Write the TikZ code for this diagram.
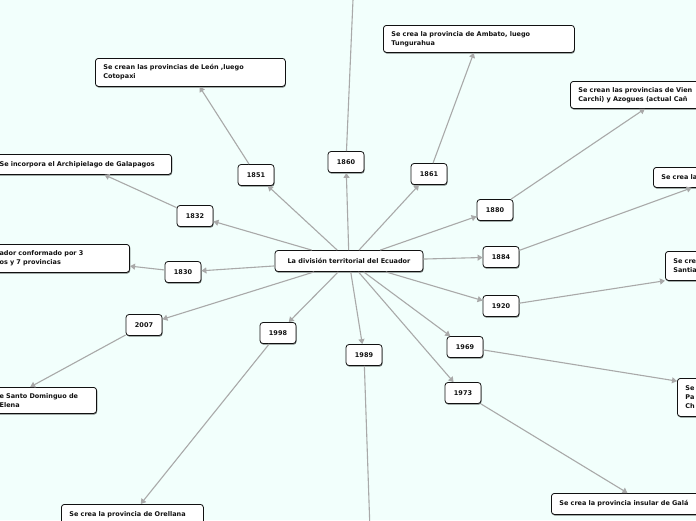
\documentclass[tikz,border=0pt]{standalone}
\usepackage{fontspec}
\setmainfont{DejaVu Sans}
\usetikzlibrary{arrows.meta,shadows}
\definecolor{mapbg}{HTML}{F2FFFC}
\definecolor{mapline}{HTML}{A9A9A9}
\definecolor{mapink}{HTML}{111111}

\begin{document}
\begin{tikzpicture}[x=1pt,y=-1pt,
    box/.style={draw=mapink,fill=white,rounded corners=3pt,line width=.8pt,
      text=mapink,font=\fontsize{6.5}{9}\selectfont\bfseries,
      drop shadow={shadow xshift=.5pt,shadow yshift=-1.2pt,opacity=.5,fill=black}},
    year/.style={box,minimum width=36pt,minimum height=21pt,inner sep=0pt},
    topic/.style={box,align=left,inner xsep=8pt,inner ysep=2pt},
    link/.style={draw=mapline,line width=1.1pt,-{Triangle[length=5pt,width=6pt]}}]
        \fill[mapbg] (0,0) rectangle (696,520);
        \useasboundingbox (0,0) rectangle (696,520);

        \node[box,minimum width=148pt,minimum height=21pt,inner sep=0pt] (root) at (349,261)
          {La división territorial del Ecuador};

        \node[year] (y1830) at (183,272) {1830};
        \node[year] (y1832) at (195,216) {1832};
        \node[year] (y1851) at (256,175) {1851};
        \node[year] (y1860) at (346,162) {1860};
        \node[year] (y1861) at (429,174) {1861};
        \node[year] (y1880) at (495,210) {1880};
        \node[year] (y1884) at (501,257) {1884};
        \node[year] (y1920) at (501,306) {1920};
        \node[year] (y1969) at (465,347) {1969};
        \node[year] (y1973) at (463,393) {1973};
        \node[year] (y1989) at (364,355) {1989};
        \node[year] (y1998) at (278,333) {1998};
        \node[year] (y2007) at (144,325) {2007};

        \node[topic,anchor=north west,text width=174pt,minimum height=28pt] (leon) at (95,58)
          {Se crean las provincias de León ,luego\\Cotopaxi};
        \node[topic,anchor=north west,text width=175pt,minimum height=27pt] (ambato) at (383,25)
          {Se crea la provincia de Ambato, luego\\Tungurahua};
        \node[topic,anchor=north east,text width=164pt,minimum height=20pt] (galapagos) at (172,154)
          {Se incorpora el Archipielago de Galapagos};
        \node[topic,anchor=north east,text width=122pt,minimum height=28pt] (estado) at (130,244)
          {ador conformado por 3\\os y 7 provincias};
        \node[topic,anchor=north east,text width=166pt,minimum height=26pt] (santodom) at (97,387)
          {\hspace*{77pt}e Santo Dominguo de\\\hspace*{77pt}Elena};
        \node[topic,anchor=north west,text width=126pt,minimum height=20pt] (orellana) at (61,504)
          {Se crea la provincia de Orellana};
        \node[topic,anchor=north west,text width=174pt,minimum height=27pt] (carchi) at (570,81)
          {Se crean las provincias de Vien\\Carchi) y Azogues (actual Cañ};
        \node[topic,anchor=north west,text width=118pt,minimum height=20pt] (t1884) at (653,167)
          {Se crea la};
        \node[topic,anchor=north west,text width=176pt,minimum height=29pt] (t1920) at (665,251)
          {Se cre\\Santia};
        \node[topic,anchor=north west,text width=186pt,minimum height=38pt] (t1969) at (677,378)
          {Se\\Pa\\Ch};
        \node[topic,anchor=north west,text width=172pt,minimum height=21pt] (galapagos2) at (551,493)
          {Se crea la provincia insular de Galá};

        \coordinate (up1860) at (356,-70);
        \coordinate (down1989) at (371,560);

        \foreach \yr in {1830,1832,1851,1860,1861,1880,1884,1920,1969,1973,1989,1998,2007}
          \draw[link] (root) -- (y\yr);

        \draw[link] (y1830) -- (estado);
        \draw[link] (y1832) -- (galapagos);
        \draw[link] (y1851) -- (leon);
        \draw[link] (y1860) -- (up1860);
        \draw[link] (y1861) -- (ambato);
        \draw[link] (y1880) -- (carchi);
        \draw[link] (y1884) -- (t1884);
        \draw[link] (y1920) -- (t1920);
        \draw[link] (y1969) -- (t1969);
        \draw[link] (y1973) -- (galapagos2);
        \draw[link] (y1989) -- (down1989);
        \draw[link] (y1998) -- (orellana);
        \draw[link] (y2007) -- (santodom);
      \end{tikzpicture}
\end{document}
